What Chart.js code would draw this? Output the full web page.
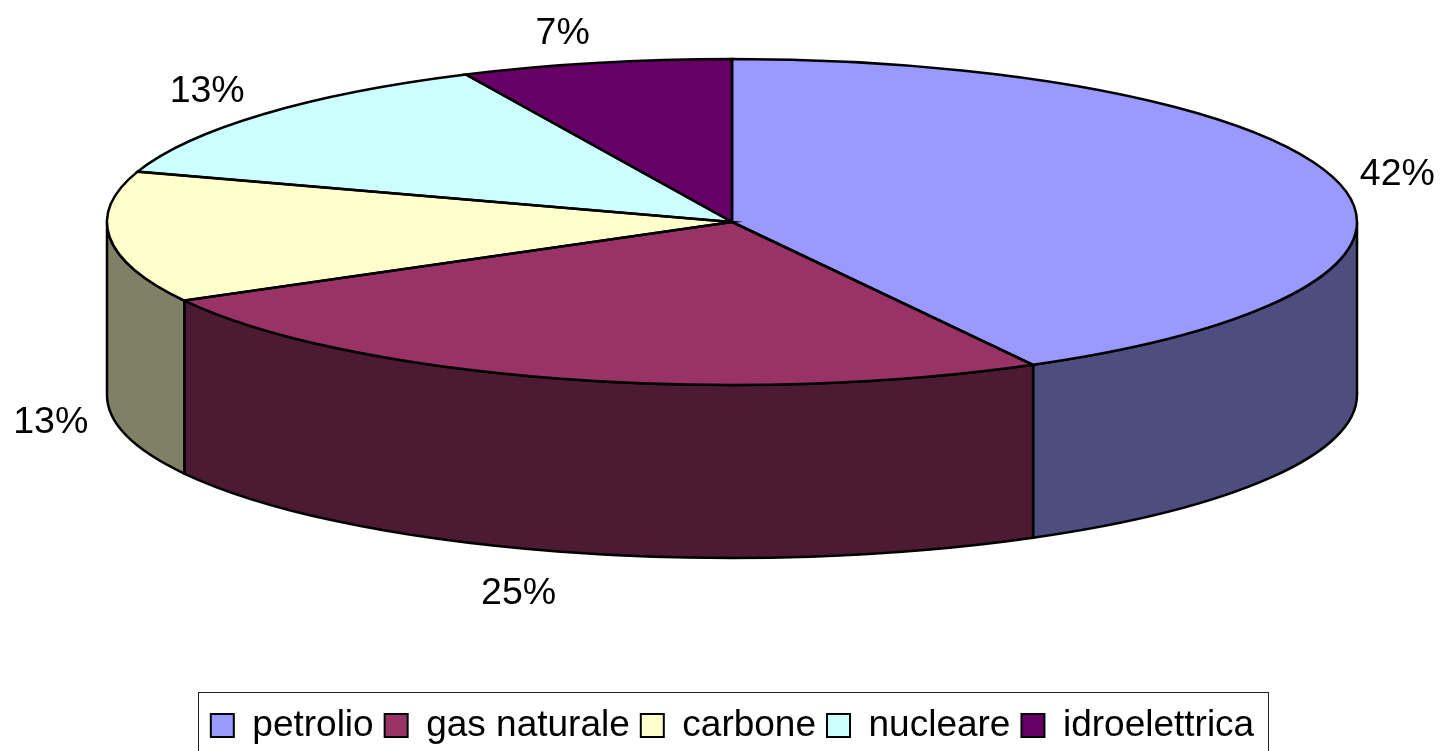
<!DOCTYPE html>
<html>
<head>
    <script src="https://cdn.jsdelivr.net/npm/chart.js@4/dist/chart.umd.js"></script>
</head>
<body>
    <canvas id="energyPie" width="1441" height="751" role="img" aria-label="Pie chart of energy sources"></canvas>
</body>
</html>

<script>
    const categories = ['petrolio', 'gas naturale', 'carbone', 'nucleare', 'idroelettrica'];
    const shares = [42, 25, 13, 13, 7];
    const topColours = ['#9999ff', '#993366', '#ffffcc', '#ccffff', '#660066'];
    const wallColours = ['#4d4d80', '#4d1a33', '#808066', '#668080', '#330033'];

    // Where the tilted pie sits on the page
    const centreX = 732;
    const centreY = 222;
    const radiusX = 625;
    const radiusY = 163;
    const depth = 173;

    // Nudge of each percent label away from the rim
    const labelNudge = [[60, -7], [-39, 42], [-59, 12], [-56, -23], [-33, -29]];

    const rimAngles = (arc) => [arc.startAngle, arc.endAngle];

    const drawWalls = (chart, ctx) => {
        chart.getDatasetMeta(0).data.forEach((arc, i) => {
            const [start, end] = rimAngles(arc);
            // only the front half of the rim shows
            const from = Math.max(start, 0);
            const to = Math.min(end, Math.PI);
            if (to <= from) return;
            ctx.beginPath();
            ctx.ellipse(centreX, centreY, radiusX, radiusY, 0, from, to);
            ctx.ellipse(centreX, centreY + depth, radiusX, radiusY, 0, to, from, true);
            ctx.closePath();
            ctx.fillStyle = wallColours[i];
            ctx.fill();
            ctx.lineWidth = 2.5;
            ctx.strokeStyle = '#000';
            ctx.stroke();
        });
    };

    const drawOutlines = (chart, ctx) => {
        chart.getDatasetMeta(0).data.forEach((arc) => {
            const [start, end] = rimAngles(arc);
            ctx.beginPath();
            ctx.moveTo(centreX, centreY);
            ctx.ellipse(centreX, centreY, radiusX, radiusY, 0, start, end);
            ctx.closePath();
            ctx.lineWidth = 2.5;
            ctx.strokeStyle = '#000';
            ctx.stroke();
        });
    };

    const drawPercents = (chart, ctx) => {
        ctx.font = '37.5px "Liberation Sans"';
        ctx.fillStyle = '#000';
        ctx.textAlign = 'center';
        ctx.textBaseline = 'middle';
        chart.getDatasetMeta(0).data.forEach((arc, i) => {
            const mid = (arc.startAngle + arc.endAngle) / 2;
            const front = Math.sin(mid) > 0 ? depth : 0;
            const x = centreX + radiusX * Math.cos(mid) + labelNudge[i][0];
            const y = centreY + radiusY * Math.sin(mid) + front + labelNudge[i][1];
            ctx.fillText(shares[i] + '%', x, y);
        });
    };

    const tiltPlugin = {
        id: 'tilt',
        beforeDatasetDraw(chart) {
            const ctx = chart.ctx;
            const arc = chart.getDatasetMeta(0).data[0];
            drawWalls(chart, ctx);
            // squash the library's round pie into the top face
            ctx.save();
            ctx.translate(centreX, centreY);
            ctx.scale(radiusX / arc.outerRadius, radiusY / arc.outerRadius);
            ctx.translate(-arc.x, -arc.y);
        },
        afterDatasetDraw(chart) {
            const ctx = chart.ctx;
            ctx.restore();
            drawOutlines(chart, ctx);
            drawPercents(chart, ctx);
        },
        afterDraw(chart) {
            // legend frame, runs off the bottom of the page like the original
            const ctx = chart.ctx;
            const boxes = chart.legend.legendHitBoxes;
            const first = boxes[0];
            const last = boxes[boxes.length - 1];
            const left = Math.round(first.left - 13) + 0.5;
            const right = Math.round(last.left + last.width + 14) + 0.5;
            ctx.lineWidth = 1;
            ctx.strokeStyle = '#222';
            ctx.strokeRect(left, 692.5, right - left, 80);
        }
    };

    new Chart(document.getElementById('energyPie'), {
        type: 'pie',
        data: {
            labels: categories,
            datasets: [{
                data: shares,
                backgroundColor: topColours,
                borderWidth: 0,
                clip: false
            }]
        },
        options: {
            responsive: false,
            animation: false,
            layout: { padding: { left: 24, bottom: -3 } },
            plugins: {
                tooltip: { enabled: false },
                legend: {
                    position: 'bottom',
                    labels: {
                        color: '#000',
                        font: { family: '"Liberation Sans"', size: 37 },
                        boxWidth: 23,
                        boxHeight: 23,
                        padding: 11,
                        generateLabels: () => categories.map((name, i) => ({
                            text: name,
                            fillStyle: topColours[i],
                            strokeStyle: '#000',
                            lineWidth: 2,
                            index: i
                        }))
                    }
                }
            }
        },
        plugins: [tiltPlugin]
    });
</script>

<style>
body {
    margin: 0;
    background: #fff;
}
canvas {
    display: block;
}
</style>
